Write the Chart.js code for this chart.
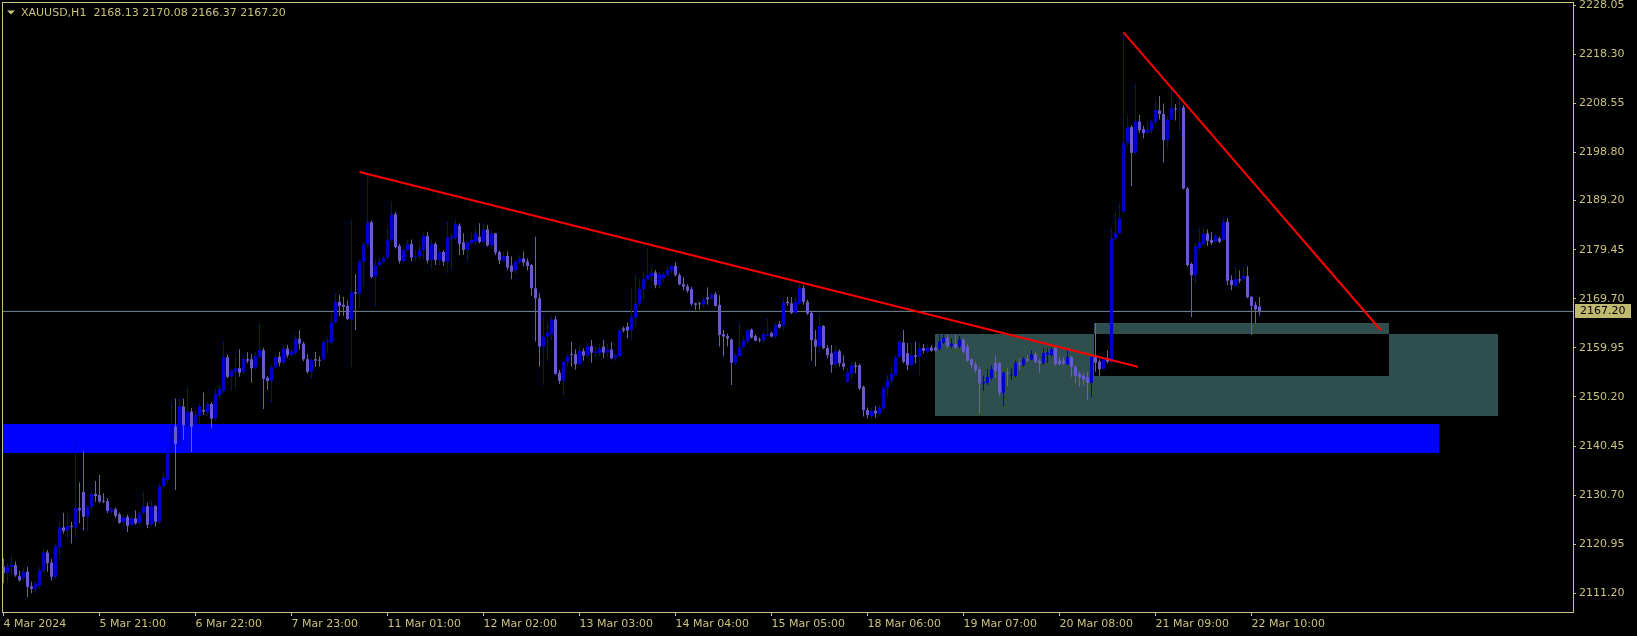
<!DOCTYPE html>
<html>
<head>
<meta charset="utf-8">
<title>XAUUSD,H1</title>
<script src="https://cdn.jsdelivr.net/npm/chart.js@4.4.1/dist/chart.umd.min.js"></script>
<style>
  html, body { margin: 0; padding: 0; background: #000; }
  canvas { display: block; }
</style>
</head>
<body>
<canvas id="chart" width="1637" height="636"></canvas>
<script>
// XAUUSD H1 candles, 4 Mar - 22 Mar 2024 (one value per bar)
const openP = [
  2116.5,2115.2,2116.4,2116.8,2114.6,2114.2,2115.5,2112.6,2112.0,2112.7,
  2115.7,2119.3,2117.3,2114.4,2120.3,2124.3,2123.6,2124.6,2124.3,2128.1,
  2131.3,2126.4,2128.3,2130.9,2130.7,2129.5,2129.5,2127.4,2127.9,2126.9,
  2125.4,2126.4,2124.8,2126.1,2125.1,2127.1,2128.5,2124.8,2128.5,2125.4,
  2132.5,2133.8,2139.3,2144.3,2140.9,2148.3,2144.3,2147.3,2144.9,2146.5,
  2147.6,2147.1,2148.8,2145.9,2150.5,2151.4,2158.1,2154.2,2155.2,2155.9,
  2155.2,2157.7,2157.7,2156.1,2158.2,2159.5,2154.0,2153.4,2156.1,2158.2,
  2157.0,2159.8,2158.5,2158.9,2161.8,2160.8,2157.7,2155.2,2157.7,2157.6,
  2157.7,2161.0,2161.0,2165.0,2169.1,2168.5,2168.3,2165.7,2171.0,2170.7,
  2177.1,2180.4,2184.9,2174.1,2176.3,2177.1,2177.9,2181.5,2186.5,2180.2,
  2177.2,2179.4,2180.6,2178.0,2178.1,2179.4,2182.2,2177.3,2180.6,2177.4,
  2179.0,2177.1,2181.6,2181.8,2184.2,2180.9,2179.4,2180.7,2181.0,2182.0,
  2181.0,2183.5,2180.3,2182.7,2179.0,2177.3,2178.2,2176.3,2175.3,2176.9,
  2177.7,2177.1,2176.4,2171.8,2169.8,2160.2,2162.2,2162.7,2165.6,2155.0,
  2153.4,2157.2,2158.7,2158.7,2156.7,2159.3,2158.4,2160.3,2159.0,2158.9,
  2160.2,2159.0,2159.6,2158.0,2158.3,2163.8,2164.2,2163.4,2166.0,2168.8,
  2171.6,2173.6,2174.2,2174.9,2172.4,2173.8,2174.4,2175.3,2176.2,2174.4,
  2172.6,2172.2,2171.6,2168.8,2168.8,2168.5,2170.0,2169.8,2170.6,2168.5,
  2162.7,2162.3,2161.6,2156.9,2158.3,2160.1,2161.2,2163.6,2162.3,2161.6,
  2161.4,2162.4,2162.9,2162.2,2164.7,2164.3,2169.1,2168.8,2166.9,2168.8,
  2171.8,2169.1,2166.9,2161.6,2160.2,2164.3,2159.9,2158.9,2156.6,2159.3,
  2156.9,2153.2,2154.8,2156.5,2156.5,2152.2,2147.6,2146.4,2147.5,2146.8,
  2147.9,2152.0,2153.4,2154.6,2158.1,2161.0,2158.9,2156.5,2158.5,2158.2,
  2159.9,2159.2,2160.0,2160.0,2159.8,2161.0,2162.0,2160.3,2160.7,2160.3,
  2161.6,2160.2,2157.7,2156.7,2155.7,2152.9,2153.0,2154.0,2157.0,2157.0,
  2151.0,2155.0,2154.5,2154.4,2157.0,2156.5,2157.7,2157.6,2158.7,2157.4,
  2156.9,2158.6,2158.5,2159.9,2157.4,2157.4,2156.7,2158.1,2156.2,2154.8,
  2154.4,2154.1,2153.0,2158.1,2157.2,2155.7,2157.9,2157.2,2181.7,2182.7,
  2187.0,2200.7,2203.8,2198.7,2204.9,2203.4,2202.7,2203.1,2204.7,2207.1,
  2206.4,2201.2,2205.3,2207.5,2207.3,2207.7,2191.6,2176.6,2174.4,2179.8,
  2180.6,2182.7,2181.4,2181.0,2181.7,2181.5,2185.0,2173.4,2172.2,2173.6,
  2173.6,2174.2,2170.1,2168.5,2168.13
];
const highP = [
  2118.1,2117.2,2118.5,2117.5,2115.7,2116.3,2116.5,2113.5,2113.6,2116.5,
  2120.0,2119.8,2118.0,2121.0,2125.4,2127.2,2127.1,2125.4,2141.7,2133.2,
  2139.4,2128.7,2131.5,2133.5,2134.7,2131.1,2130.1,2128.3,2128.2,2127.2,
  2126.7,2126.8,2126.5,2127.7,2127.5,2131.4,2129.2,2129.7,2128.7,2133.0,
  2135.2,2140.0,2149.1,2149.9,2149.9,2149.9,2152.1,2148.0,2147.5,2149.0,
  2151.1,2149.4,2149.2,2151.9,2152.5,2161.3,2158.7,2155.8,2158.1,2159.7,
  2158.2,2159.1,2158.7,2159.2,2164.7,2160.0,2154.3,2156.6,2158.6,2159.2,
  2160.5,2160.5,2159.7,2162.5,2163.5,2161.2,2158.7,2157.9,2159.2,2158.3,
  2161.6,2161.8,2166.8,2170.9,2170.5,2170.1,2169.3,2185.3,2174.6,2177.5,
  2181.0,2194.9,2185.3,2177.5,2177.9,2178.3,2183.7,2189.0,2187.0,2180.6,
  2179.8,2181.5,2181.5,2179.4,2180.4,2182.8,2183.0,2181.5,2181.0,2179.7,
  2179.4,2185.0,2182.7,2185.5,2184.7,2182.7,2181.2,2182.8,2183.7,2184.7,
  2184.7,2184.4,2183.0,2182.8,2179.3,2179.1,2179.1,2178.1,2177.5,2178.4,
  2179.1,2177.7,2176.6,2182.0,2170.8,2166.3,2165.0,2166.3,2166.3,2155.6,
  2157.4,2158.9,2161.2,2159.7,2160.3,2159.9,2160.7,2161.5,2160.2,2160.7,
  2161.5,2160.7,2161.0,2158.9,2163.6,2164.2,2165.0,2171.8,2174.4,2173.6,
  2174.9,2179.7,2175.9,2175.4,2175.1,2175.1,2176.1,2176.4,2176.9,2174.8,
  2174.0,2172.6,2172.1,2168.9,2169.1,2170.0,2172.0,2170.9,2171.1,2170.4,
  2163.5,2162.8,2161.8,2158.9,2165.0,2162.2,2163.6,2163.8,2162.7,2162.0,
  2163.2,2165.8,2163.2,2165.2,2165.3,2170.0,2170.1,2170.0,2170.1,2172.6,
  2172.4,2169.5,2167.3,2163.5,2166.7,2164.5,2160.5,2160.5,2160.3,2159.7,
  2158.5,2155.9,2157.2,2157.2,2156.8,2152.5,2148.1,2148.1,2148.3,2148.6,
  2152.3,2154.6,2156.2,2158.5,2161.5,2163.5,2160.9,2160.9,2161.2,2160.9,
  2160.7,2160.8,2160.5,2160.3,2162.5,2162.5,2162.7,2161.8,2162.7,2162.3,
  2161.8,2160.7,2157.9,2157.2,2156.2,2154.4,2155.7,2156.5,2158.5,2157.2,
  2155.2,2155.9,2155.9,2157.4,2157.9,2158.1,2158.5,2159.5,2159.2,2157.7,
  2159.9,2159.9,2160.1,2160.2,2158.2,2158.1,2159.7,2158.4,2156.5,2155.2,
  2154.9,2155.2,2158.3,2164.9,2157.7,2158.1,2159.5,2183.7,2187.0,2188.7,
  2222.6,2206.2,2204.2,2212.4,2206.2,2204.0,2205.1,2205.3,2209.3,2210.0,
  2208.5,2205.9,2211.5,2208.4,2209.3,2208.2,2191.9,2176.9,2180.7,2183.7,
  2183.9,2183.5,2183.0,2182.6,2182.0,2185.9,2185.7,2174.4,2176.1,2175.3,
  2176.1,2176.1,2170.2,2169.1,2170.08
];
const lowP = [
  2113.2,2113.2,2114.8,2114.5,2113.5,2113.7,2110.4,2111.2,2111.2,2112.2,
  2115.3,2115.5,2113.7,2114.0,2118.8,2123.1,2122.4,2121.1,2122.3,2125.1,
  2123.7,2123.4,2127.8,2129.4,2129.2,2129.1,2127.1,2127.0,2126.1,2125.0,
  2124.4,2123.4,2124.5,2124.8,2124.7,2126.8,2124.1,2124.4,2124.4,2125.0,
  2131.9,2133.0,2139.0,2131.7,2140.5,2141.7,2143.5,2139.3,2144.0,2144.6,
  2146.6,2146.5,2144.0,2145.5,2150.0,2151.0,2153.9,2151.4,2152.1,2154.2,
  2154.6,2156.9,2153.0,2155.6,2157.8,2147.8,2151.6,2149.1,2155.8,2156.3,
  2156.6,2158.0,2158.2,2158.5,2159.7,2157.3,2154.9,2153.9,2156.2,2156.2,
  2157.4,2158.9,2160.6,2164.7,2166.3,2166.3,2165.5,2156.2,2163.5,2167.8,
  2172.1,2180.0,2173.8,2168.1,2176.1,2176.7,2177.5,2181.0,2179.7,2176.7,
  2176.8,2179.0,2177.1,2177.1,2177.3,2177.5,2176.7,2175.6,2176.4,2176.4,
  2176.2,2174.8,2175.4,2181.4,2178.4,2178.4,2177.1,2180.4,2180.4,2180.7,
  2180.4,2180.1,2179.9,2178.4,2176.6,2177.1,2175.3,2173.6,2174.6,2176.6,
  2176.1,2175.3,2170.3,2161.2,2156.2,2152.6,2157.4,2161.5,2154.6,2152.8,
  2150.6,2156.3,2156.2,2155.6,2156.5,2157.4,2157.9,2157.0,2158.1,2158.3,
  2157.9,2158.1,2157.7,2157.4,2158.2,2163.0,2161.8,2161.4,2164.2,2168.1,
  2169.5,2173.3,2173.1,2171.8,2171.8,2173.1,2174.2,2174.8,2174.2,2172.4,
  2171.4,2170.9,2168.3,2167.5,2167.5,2167.8,2168.5,2169.5,2168.1,2160.2,
  2158.3,2160.2,2152.6,2156.5,2158.2,2159.9,2160.8,2161.8,2161.2,2161.0,
  2161.0,2162.2,2162.0,2161.8,2163.8,2163.4,2168.3,2166.7,2166.7,2168.5,
  2168.5,2166.5,2157.4,2156.3,2158.9,2159.7,2157.9,2155.0,2156.1,2156.2,
  2155.6,2153.0,2153.7,2154.9,2151.6,2146.3,2145.9,2145.9,2146.1,2146.6,
  2147.7,2150.2,2152.9,2154.4,2157.9,2156.9,2155.5,2156.2,2156.9,2154.4,
  2158.9,2158.9,2159.2,2159.2,2159.5,2160.7,2159.9,2159.9,2159.7,2159.9,
  2158.9,2157.2,2155.9,2154.9,2146.9,2151.4,2152.6,2153.6,2153.9,2150.4,
  2148.3,2152.4,2153.6,2154.1,2155.5,2156.2,2157.2,2157.5,2156.9,2155.0,
  2156.6,2157.0,2158.2,2156.5,2156.5,2156.5,2156.5,2154.2,2152.9,2152.2,
  2152.5,2149.6,2150.2,2155.2,2154.4,2155.5,2156.9,2156.9,2181.4,2182.6,
  2186.7,2200.0,2192.1,2198.3,2202.6,2201.6,2202.6,2202.6,2204.4,2205.3,
  2196.7,2199.6,2205.2,2205.1,2203.1,2191.4,2176.1,2166.1,2172.8,2179.4,
  2180.1,2180.2,2180.4,2180.8,2180.8,2181.2,2172.4,2171.4,2172.1,2172.8,
  2173.1,2169.8,2162.5,2164.8,2166.37
];
const closeP = [
  2115.2,2116.5,2116.8,2114.8,2113.8,2115.5,2112.5,2112.1,2113.2,2115.8,
  2119.3,2117.2,2114.5,2120.6,2124.3,2123.6,2124.6,2124.4,2128.1,2127.7,
  2126.4,2128.3,2130.9,2130.5,2129.4,2129.4,2127.6,2127.9,2126.6,2125.2,
  2126.3,2124.6,2126.1,2125.1,2127.1,2128.5,2124.8,2128.5,2125.4,2132.5,
  2134.2,2139.3,2144.6,2140.9,2148.3,2144.6,2147.3,2144.3,2146.6,2148.4,
  2147.3,2148.8,2145.9,2150.8,2151.8,2158.1,2154.2,2155.4,2155.9,2155.0,
  2157.7,2157.4,2155.9,2158.3,2159.5,2153.8,2153.4,2156.1,2158.1,2157.0,
  2159.8,2158.5,2159.3,2161.8,2160.8,2157.7,2155.2,2157.5,2157.4,2157.4,
  2161.0,2161.4,2165.0,2169.1,2168.3,2168.1,2165.7,2171.0,2170.7,2177.1,
  2180.5,2184.9,2174.0,2176.3,2177.1,2177.9,2181.5,2186.5,2180.0,2177.2,
  2179.4,2180.6,2177.9,2178.2,2179.4,2182.2,2177.3,2180.6,2177.4,2179.0,
  2177.1,2181.8,2182.1,2184.5,2180.6,2179.4,2180.9,2181.4,2182.8,2181.0,
  2183.5,2180.3,2182.7,2178.9,2177.3,2178.2,2175.9,2175.1,2177.1,2177.7,
  2176.9,2176.2,2171.8,2169.8,2160.2,2162.2,2163.0,2165.6,2154.8,2153.4,
  2157.2,2158.3,2158.5,2156.7,2159.3,2158.4,2160.3,2159.0,2159.3,2159.9,
  2159.0,2159.6,2157.9,2158.5,2163.4,2163.4,2163.4,2166.0,2168.8,2171.6,
  2173.6,2174.4,2174.9,2172.4,2174.6,2174.6,2175.4,2176.2,2174.4,2172.6,
  2172.1,2171.3,2168.7,2168.5,2168.6,2169.6,2169.6,2170.6,2168.3,2162.5,
  2162.2,2161.8,2157.0,2158.5,2160.1,2161.4,2163.5,2162.0,2161.4,2161.4,
  2162.7,2162.7,2162.2,2164.5,2164.0,2169.1,2168.8,2166.9,2169.1,2171.8,
  2169.1,2166.8,2161.5,2160.2,2164.3,2159.9,2158.5,2156.6,2159.3,2156.9,
  2156.2,2155.0,2156.5,2156.2,2151.9,2147.6,2146.6,2147.5,2146.9,2148.1,
  2152.0,2153.6,2154.8,2158.1,2161.2,2157.2,2156.5,2158.5,2158.2,2159.9,
  2159.4,2160.0,2159.4,2159.4,2161.2,2162.0,2160.3,2160.8,2160.0,2161.6,
  2159.2,2157.4,2156.5,2155.5,2152.9,2153.2,2154.2,2155.7,2155.4,2151.0,
  2155.0,2154.8,2154.7,2157.0,2156.6,2157.7,2157.4,2158.7,2157.2,2156.9,
  2158.9,2159.0,2159.7,2156.7,2156.7,2156.9,2158.1,2156.2,2154.4,2154.1,
  2153.7,2153.0,2158.1,2157.0,2155.7,2157.7,2157.2,2181.7,2182.8,2185.7,
  2200.7,2203.8,2198.7,2204.9,2203.2,2202.6,2203.2,2204.9,2207.2,2206.4,
  2201.2,2205.3,2207.5,2207.3,2207.5,2191.6,2176.4,2174.4,2180.1,2180.9,
  2182.7,2181.2,2180.8,2182.2,2181.0,2185.0,2173.3,2172.4,2173.6,2173.3,
  2174.2,2170.0,2168.3,2167.6,2167.20
];

// time axis: one label every 24 bars
const timeLabels = ['4 Mar 2024', '5 Mar 21:00', '6 Mar 22:00', '7 Mar 23:00', '11 Mar 01:00',
  '12 Mar 02:00', '13 Mar 03:00', '14 Mar 04:00', '15 Mar 05:00', '18 Mar 06:00',
  '19 Mar 07:00', '20 Mar 08:00', '21 Mar 09:00', '22 Mar 10:00'];
const priceTicks = [2228.05, 2218.30, 2208.55, 2198.80, 2189.20, 2179.45, 2169.70,
  2159.95, 2150.20, 2140.45, 2130.70, 2120.95, 2111.20];

// objects on the chart: [fromBar, toBar, lowPrice, highPrice]
const supportZone = [-20, 358.8, 2139.0, 2144.8];
const rangeZone = [232.8, 373.6, 2146.5, 2162.7];
const breakoutZone = [272.6, 346.3, 2154.4, 2164.9];
// trend lines: [bar, price] pairs
const trendLine1 = [[89, 2194.9], [283.6, 2156.2]];
const trendLine2 = [[280, 2222.6], [344.4, 2163.4]];
const lastPrice = 2167.20;

const FG = '#C8C27A';
const BULL = '#0000CD';
const BEAR = '#6A5ACD';
const FONT = { family: 'DejaVu Sans', size: 11 };

const bars = openP.map((o, i) => i);
const candleColors = bars.map(i => closeP[i] >= openP[i] ? BULL : BEAR);

// zones drawn under the candles; overlapping part of two zones shows as background
const zonesPlugin = {
  id: 'zones',
  beforeDatasetsDraw(chart) {
    const { ctx, chartArea: a, scales: { x, y } } = chart;
    const box = z => {
      const x0 = Math.round(x.getPixelForValue(z[0]));
      const x1 = Math.round(x.getPixelForValue(z[1]));
      const y0 = Math.round(y.getPixelForValue(z[3]));
      const y1 = Math.round(y.getPixelForValue(z[2]));
      return [x0, y0, x1 - x0, y1 - y0];
    };
    ctx.save();
    ctx.beginPath();
    ctx.rect(a.left, a.top, a.right - a.left, a.bottom - a.top);
    ctx.clip();
    ctx.fillStyle = '#0000FF';
    ctx.fillRect(...box(supportZone));
    ctx.fillStyle = '#2F4F4F';
    ctx.fillRect(...box(rangeZone));
    ctx.fillRect(...box(breakoutZone));
    const overlap = [
      Math.max(rangeZone[0], breakoutZone[0]), Math.min(rangeZone[1], breakoutZone[1]),
      Math.max(rangeZone[2], breakoutZone[2]), Math.min(rangeZone[3], breakoutZone[3])
    ];
    ctx.fillStyle = '#000000';
    ctx.fillRect(...box(overlap));
    ctx.restore();
  }
};

// frame, header line and the last price label
const decorPlugin = {
  id: 'decor',
  beforeDraw(chart) {
    const { ctx } = chart;
    ctx.save();
    ctx.fillStyle = '#000';
    ctx.fillRect(0, 0, chart.width, chart.height);
    ctx.restore();
  },
  afterDraw(chart) {
    const { ctx, chartArea: a, scales: { y } } = chart;
    ctx.save();
    ctx.strokeStyle = FG;
    ctx.lineWidth = 1;
    ctx.strokeRect(a.left + 0.5, a.top + 0.5, a.right - a.left, a.bottom - a.top);

    ctx.fillStyle = FG;
    ctx.beginPath();
    ctx.moveTo(7, 10.5);
    ctx.lineTo(15, 10.5);
    ctx.lineTo(11, 14.5);
    ctx.closePath();
    ctx.fill();
    ctx.font = '11px "DejaVu Sans"';
    ctx.textBaseline = 'middle';
    ctx.fillText('XAUUSD,H1  ' + [openP, highP, lowP, closeP]
      .map(s => s[s.length - 1].toFixed(2)).join(' '), 21, 13);

    const py = Math.round(y.getPixelForValue(lastPrice));
    ctx.fillStyle = '#C0BA70';
    ctx.fillRect(a.right + 2, py - 7, 56, 14);
    ctx.fillStyle = '#000';
    ctx.fillText(lastPrice.toFixed(2), a.right + 7, py + 0.5);
    ctx.restore();
  }
};

new Chart(document.getElementById('chart'), {
  type: 'bar',
  data: {
    datasets: [
      {
        type: 'line',
        data: trendLine1.map(p => ({ x: p[0], y: p[1] })),
        borderColor: '#FF0000', borderWidth: 2, pointRadius: 0, order: 0
      },
      {
        type: 'line',
        data: trendLine2.map(p => ({ x: p[0], y: p[1] })),
        borderColor: '#FF0000', borderWidth: 2, pointRadius: 0, order: 0
      },
      {
        data: bars.map(i => ({ x: i, y: [Math.min(openP[i], closeP[i]), Math.max(openP[i], closeP[i])] })),
        backgroundColor: candleColors, barThickness: 3, minBarLength: 1,
        grouped: false, inflateAmount: 0, order: 1
      },
      {
        data: bars.map(i => ({ x: i, y: [lowP[i], highP[i]] })),
        backgroundColor: candleColors, barThickness: 1, minBarLength: 1,
        grouped: false, inflateAmount: 0, order: 2
      },
      {
        type: 'line',
        data: [{ x: -10, y: lastPrice }, { x: 400, y: lastPrice }],
        borderColor: '#778899', borderWidth: 1, pointRadius: 0, order: 3
      }
    ]
  },
  options: {
    responsive: false,
    animation: false,
    devicePixelRatio: 1,
    layout: { padding: { left: 2, top: 2, right: 0, bottom: 0 } },
    plugins: { legend: { display: false }, tooltip: { enabled: false } },
    scales: {
      x: {
        type: 'linear',
        offset: false,
        min: -0.375,
        max: 392.375,
        border: { display: false },
        grid: { offset: false, drawOnChartArea: false, drawTicks: true, tickLength: 4, color: FG },
        ticks: {
          color: FG, font: FONT, align: 'start', autoSkip: false, maxRotation: 0, padding: 2,
          callback: (v, i) => timeLabels[i]
        },
        afterBuildTicks: s => { s.ticks = timeLabels.map((t, k) => ({ value: k * 24 })); },
        afterFit: s => { s.height = 24; s.paddingLeft = 0; s.paddingRight = 0; }
      },
      y: {
        type: 'linear',
        position: 'right',
        min: 2107.49,
        max: 2228.65,
        border: { display: false },
        grid: { drawOnChartArea: false, drawTicks: true, tickLength: 3, color: FG },
        ticks: { color: FG, font: FONT, padding: 3, callback: v => v.toFixed(2) },
        afterBuildTicks: s => { s.ticks = priceTicks.map(v => ({ value: v })); },
        afterFit: s => { s.width = 64; s.paddingTop = 0; s.paddingBottom = 0; }
      }
    }
  },
  plugins: [zonesPlugin, decorPlugin]
});
</script>
</body>
</html>
